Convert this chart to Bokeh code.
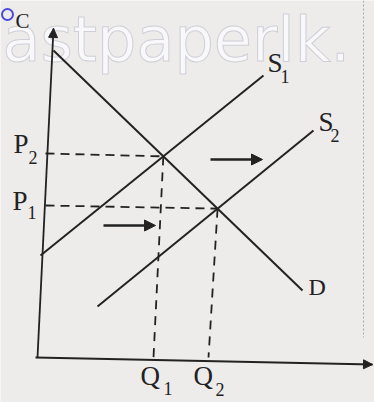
import numpy as np
from bokeh.plotting import figure
from bokeh.models import Range1d, Arrow, NormalHead
from bokeh.core.properties import value
from bokeh.embed import file_html
from bokeh.resources import INLINE

# ---- data (quantity, price in diagram units) ----
D_q = [16, 265]
D_p = [307, 67]
S1_q = [3, 226]
S1_p = [102, 282]
S2_q = [60, 276]
S2_p = [51, 227]

# axis ends
yaxis_q = [0, 16]
yaxis_p = [0, 329]
xaxis_q = [-2, 335]
xaxis_p = [0, -7]

# feet of the guide lines on the axes
guide_left_q = [8, 8]          # P2, P1 start on price axis
guide_left_p = [204, 152]
guide_foot_q = [116, 171]      # Q1, Q2 feet on quantity axis
guide_foot_p = [0, 0]

# shift arrows (start q, end q, p)
shift_q0 = [173, 66]
shift_q1 = [225, 118]
shift_p = [198, 132]

# labels
main_labels = ["P", "P", "Q", "Q", "S", "S"]
main_q = [-24, -25, 103, 156, 230, 281]
main_p = [214, 157, -18, -18, 295, 236]
sub_labels = ["2", "1", "1", "2", "1", "2"]
sub_q = [-9, -10, 126, 178, 243, 293]
sub_p = [200, 145, -31, -32, 281, 222]
d_label = ["D"]
d_q = [271]
d_p = [71]
c_label = ["C"]
c_q = [-22]
c_p = [337]
watermark = ["astpaperlk."]

INK = "#222222"
BG = "#edecea"
SERIF = value("Liberation Serif")


def intersect(q1, p1, q2, p2):
    m1 = (p1[1] - p1[0]) / (q1[1] - q1[0])
    m2 = (p2[1] - p2[0]) / (q2[1] - q2[0])
    b1 = p1[0] - m1 * q1[0]
    b2 = p2[0] - m2 * q2[0]
    q = (b2 - b1) / (m1 - m2)
    return q, m1 * q + b1


e1 = intersect(D_q, D_p, S1_q, S1_p)
e2 = intersect(D_q, D_p, S2_q, S2_p)
eqs = [e1, e2]

p = figure(width=374, height=402, x_range=Range1d(-37, 337), y_range=Range1d(-45, 357),
           output_backend="svg", toolbar_location=None, min_border=0)
p.axis.visible = False
p.grid.visible = False
p.outline_line_color = None
p.background_fill_color = BG
p.border_fill_color = BG

# watermark
p.text(x=[-35], y=[318], text=watermark, text_font=value("DejaVu Sans"),
       text_font_size="62px", text_color="#f8f8fb", text_alpha=1.0,
       text_outline_color="#cfcfd8", text_baseline="middle")

# page border at right
p.line([326, 326], [357, 20], line_color="#9a9a9a", line_width=1, line_dash="2 2", line_alpha=0.8)

# blue ink mark
p.scatter([-30], [343], size=11, marker="circle", fill_color=None, line_color="#4a4adf", line_width=2)

# axes
p.line(yaxis_q, yaxis_p, line_color=INK, line_width=1.8)
p.line(xaxis_q, xaxis_p, line_color=INK, line_width=1.8)
p.add_layout(Arrow(end=NormalHead(size=9, fill_color=INK, line_color=INK),
                   x_start=yaxis_q[0], y_start=yaxis_p[0], x_end=yaxis_q[1], y_end=yaxis_p[1],
                   line_width=0, line_alpha=0))
p.add_layout(Arrow(end=NormalHead(size=9, fill_color=INK, line_color=INK),
                   x_start=xaxis_q[0], y_start=xaxis_p[0], x_end=xaxis_q[1], y_end=xaxis_p[1],
                   line_width=0, line_alpha=0))

# guide lines
for i, (eq, ep) in enumerate(eqs):
    p.line([guide_left_q[i], eq], [guide_left_p[i], ep], line_color=INK, line_width=1.8, line_dash="9 6")
    p.line([eq, guide_foot_q[i]], [ep, guide_foot_p[i]], line_color=INK, line_width=1.8, line_dash="9 7")

# curves
for qs, ps in [(D_q, D_p), (S1_q, S1_p), (S2_q, S2_p)]:
    p.line(qs, ps, line_color=INK, line_width=2.0)

# shift arrows
for a, b, y in zip(shift_q0, shift_q1, shift_p):
    p.add_layout(Arrow(end=NormalHead(size=11, fill_color=INK, line_color=INK),
                       x_start=a, y_start=y, x_end=b, y_end=y, line_width=2.6, line_color=INK))

# labels
p.text(x=main_q, y=main_p, text=main_labels, text_font=SERIF, text_font_size="27px",
       text_color=INK, text_baseline="middle", text_align="left")
p.text(x=sub_q, y=sub_p, text=sub_labels, text_font=SERIF, text_font_size="18px",
       text_color=INK, text_baseline="middle", text_align="left")
p.text(x=d_q, y=d_p, text=d_label, text_font=SERIF, text_font_size="24px",
       text_color=INK, text_baseline="middle", text_align="left")
p.text(x=c_q, y=c_p, text=c_label, text_font=SERIF, text_font_size="21px",
       text_color=INK, text_baseline="middle", text_align="left")

open("out.html", "w").write(file_html(p, INLINE))
